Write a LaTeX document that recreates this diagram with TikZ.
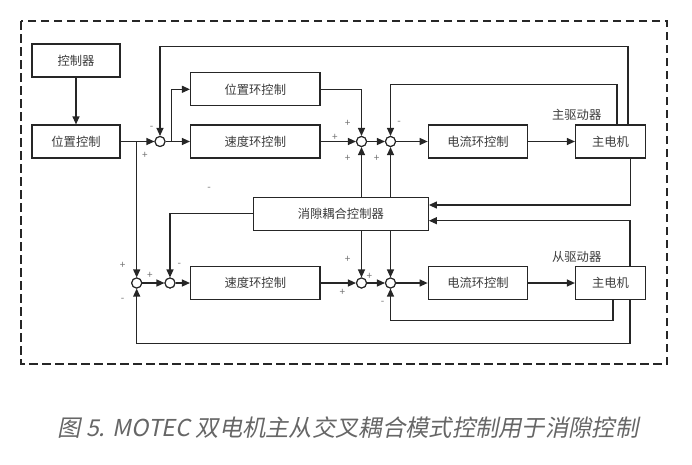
\documentclass[tikz,border=0pt]{standalone}
\usepackage{fontspec}
\setmainfont{Noto Sans CJK SC}
\newfontfamily\capfont[FakeSlant=0.2]{Noto Sans CJK SC}
\usetikzlibrary{arrows.meta}
\definecolor{ln}{HTML}{262626}
\definecolor{txt}{HTML}{3C3C3C}
\definecolor{sgn}{HTML}{707070}
\definecolor{cap}{HTML}{666666}
\begin{document}
\begin{tikzpicture}[x=1pt,y=-1pt,
  blk/.style={draw=ln, line width=1.2pt, minimum width=#1, minimum height=33pt, inner sep=0pt,
    font=\fontsize{12.3}{13}\selectfont, text=txt},
  sumc/.style={circle, draw=ln, fill=white, line width=1.1pt, minimum size=10pt, inner sep=0pt},
  arr/.style={-{Triangle[length=8pt,width=7pt]}, line width=1.2pt, draw=ln},
  sg/.style={font=\fontsize{10}{10}\selectfont, text=sgn, inner sep=0pt},
  lbl/.style={font=\fontsize{12.3}{13}\selectfont, text=txt, inner sep=0pt}]
\useasboundingbox (0,0) rectangle (692,464);
\draw[ln, line width=2.4pt, dash pattern=on 8.5pt off 4.5pt] (21,21) rectangle (667,364);

% blocks
\node[blk=88pt] (ctrl) at (76,60.5) {控制器};
\node[blk=88pt] (posctrl) at (76,141.5) {位置控制};
\node[blk=129.5pt] (poscl) at (255.3,89.3) {位置环控制};
\node[blk=129.5pt] (spd1) at (255.3,141.5) {速度环控制};
\node[blk=99.5pt] (cur1) at (478,141.5) {电流环控制};
\node[blk=70pt] (mot1) at (610.5,141.5) {主电机};
\node[blk=175pt] (xiao) at (340.8,213.7) {消隙耦合控制器};
\node[blk=129.5pt] (spd2) at (255.3,283) {速度环控制};
\node[blk=99.5pt] (cur2) at (478,283) {电流环控制};
\node[blk=70pt] (mot2) at (610.5,283) {主电机};
\node[lbl] (drv1) at (576.7,115) {主驱动器};
\node[lbl] (drv2) at (576.7,257.3) {从驱动器};

% summing junctions
\node[sumc] (s1) at (160,141.5) {};
\node[sumc] (sA) at (361.5,141.5) {};
\node[sumc] (sB) at (390.5,141.5) {};
\node[sumc] (s5) at (136.7,283) {};
\node[sumc] (s6) at (170,283) {};
\node[sumc] (sC) at (361.5,283) {};
\node[sumc] (sD) at (390.5,283) {};
\coordinate (b1) at (136.7,141.5);
\coordinate (b2) at (171.7,141.5);

% connectors, master
\draw[arr] (ctrl) -- (posctrl);
\draw[arr] (posctrl) -- (s1);
\draw[arr] ([xshift=17.5pt]mot1.north) -- ++(0,-78) -| (s1.north);
\draw[arr] (s1) -- (spd1);
\draw[arr] (b2) |- (poscl.west);
\draw[arr] (poscl.east) -| (sA.north);
\draw[arr] (spd1) -- (sA);
\draw[arr] (sA) -- (sB);
\draw[arr] ([xshift=6.5pt]mot1.north) -- ++(0,-40) -| (sB.north);
\draw[arr] (sB) -- (cur1);
\draw[arr] (cur1) -- (mot1);
\draw[arr] ([xshift=20pt]mot1.south) |- ([yshift=8.7pt]xiao.east);
\draw[arr] ([xshift=19.5pt]mot2.north) |- ([yshift=-7pt]xiao.east);
\draw[arr] (xiao.north -| sA) -- (sA.south);
\draw[arr] (xiao.north -| sB) -- (sB.south);

% connectors, slave
\draw[arr] (b1) -- (s5.north);
\draw[arr] (xiao.west) -| (s6.north);
\draw[arr] (xiao.south -| sC) -- (sC.north);
\draw[arr] (xiao.south -| sD) -- (sD.north);
\draw[arr] (s5) -- (s6);
\draw[arr] (s6) -- (spd2);
\draw[arr] (spd2) -- (sC);
\draw[arr] (sC) -- (sD);
\draw[arr] (sD) -- (cur2);
\draw[arr] (cur2) -- (mot2);
\draw[arr] ([xshift=2.5pt]mot2.south) -- ++(0,20.5) -| (sD.south);
\draw[arr] ([xshift=19.5pt]mot2.south) -- ++(0,43.5) -| (s5.south);

% redraw circles on top
\foreach \c in {s1,sA,sB,s5,s6,sC,sD} \node[sumc] at (\c) {};

% signs
\node[sg] at (151.7,128) {-};
\node[sg] at (145,155) {+};
\node[sg] at (347.7,123.3) {+};
\node[sg] at (335,137) {+};
\node[sg] at (347.7,158.3) {+};
\node[sg] at (376.7,158.3) {+};
\node[sg] at (399,122.5) {-};
\node[sg] at (209,189) {-};
\node[sg] at (122.7,265) {+};
\node[sg] at (122.7,300) {-};
\node[sg] at (150,275) {+};
\node[sg] at (179.3,265) {-};
\node[sg] at (347.7,259.3) {+};
\node[sg] at (369.3,276) {+};
\node[sg] at (342.3,292.3) {+};
\node[sg] at (382.7,302.7) {-};

% caption
\node[font=\capfont\fontsize{23.3}{26}\selectfont, text=cap, inner sep=0pt] (capt) at (348,428)
  {图 5. MOTEC 双电机主从交叉耦合模式控制用于消隙控制};
\end{tikzpicture}
\end{document}
